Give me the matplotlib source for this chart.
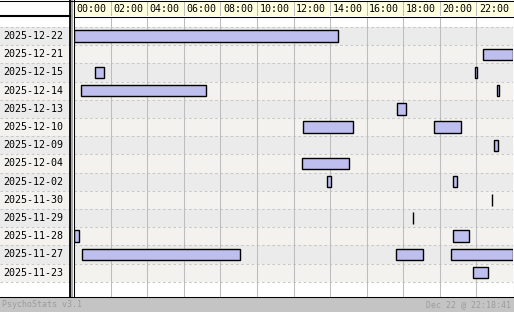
import matplotlib.pyplot as plt
from matplotlib.patches import Rectangle
from matplotlib.lines import Line2D

# Days shown (top to bottom)
days = ["2025-12-22", "2025-12-21", "2025-12-15", "2025-12-14", "2025-12-13",
        "2025-12-10", "2025-12-09", "2025-12-04", "2025-12-02", "2025-11-30",
        "2025-11-29", "2025-11-28", "2025-11-27", "2025-11-23"]

# Sessions: day, start hour, end hour
session_day = ["2025-12-22", "2025-12-21", "2025-12-15", "2025-12-15",
               "2025-12-14", "2025-12-14", "2025-12-13", "2025-12-10",
               "2025-12-10", "2025-12-09", "2025-12-04", "2025-12-02",
               "2025-12-02", "2025-11-30", "2025-11-29", "2025-11-28",
               "2025-11-28", "2025-11-27", "2025-11-27", "2025-11-27",
               "2025-11-23"]
session_start = [0.00, 22.34, 1.14, 21.91, 0.38, 23.11, 17.64, 12.51, 19.67,
                 22.95, 12.45, 13.82, 20.70, 22.86, 18.52, 0.00, 20.70,
                 0.43, 17.59, 20.60, 21.80]
session_end = [14.42, 24.00, 1.63, 22.04, 7.23, 23.24, 18.14, 15.26, 21.16,
               23.19, 15.04, 14.06, 20.95, 22.86, 18.52, 0.29, 21.60,
               9.09, 19.09, 24.00, 22.64]

hour_ticks = list(range(0, 24, 2))
tick_labels = [f"{h:02d}:00" for h in hour_ticks]

footer_left = "PsychoStats v3.1"
footer_right = "Dec 22 @ 22:18:41"

W, H = 514, 312
FONT = "DejaVu Sans Mono"
ROW_A = "#ebebeb"
ROW_B = "#f4f2ee"
BAR_FILL = "#bfbfef"
GRID = "#bdbdbd"


def box(x0, y0, x1, y1):
    # pixel box (top-left origin) -> figure fraction rect
    return [x0 / W, 1 - y1 / H, (x1 - x0) / W, (y1 - y0) / H]


fig = plt.figure(figsize=(W / 100, H / 100), dpi=100)

# y limits: top white strip above first row, bottom white strip after last
n = len(days)
ylim = (n - 0.5 + 15.3 / 18.2, -0.5 - 10.0 / 18.2)

ax = fig.add_axes(box(74, 17, 513, 297))
ax_lab = fig.add_axes(box(0, 17, 69, 297))
ax_head = fig.add_axes(box(74, 1, 513, 16))

for a in (ax, ax_lab, ax_head):
    for s in a.spines.values():
        s.set_visible(False)
    a.set_xticks([])
    a.set_yticks([])

# row backgrounds + dashed separators
for a in (ax, ax_lab):
    a.set_ylim(*ylim)
    a.set_facecolor("white")
    for i in range(n):
        a.axhspan(i - 0.5, i + 0.5, color=ROW_A if i % 2 == 0 else ROW_B, lw=0, zorder=0)
    for i in range(-1, n):
        a.axhline(i + 0.5, color="#c8c8c8", lw=0.75, dashes=(2.5, 2.5), zorder=1)

ax.set_xlim(0, 24)
ax_lab.set_xlim(0, 69)

for h in hour_ticks[1:]:
    ax.axvline(h, color=GRID, lw=0.75, zorder=1)

# sessions
row_of = {d: i for i, d in enumerate(days)}
ys = [row_of[d] for d in session_day]
widths = [e - s for s, e in zip(session_start, session_end)]
ax.barh(ys, widths, left=session_start, height=0.63, color=BAR_FILL,
        edgecolor="black", linewidth=1.0, zorder=3)

# day labels
for i, d in enumerate(days):
    ax_lab.text(3, i, d, ha="left", va="center", fontsize=7.2,
                family=FONT, color="black")

# header with hour labels
ax_head.set_xlim(0, 24)
ax_head.set_ylim(0, 1)
ax_head.set_facecolor("#ffffe0")
for h in hour_ticks[1:]:
    ax_head.axvline(h, color=GRID, lw=0.75)
for h, lab in zip(hour_ticks, tick_labels):
    ax_head.text(h + 0.14, 0.45, lab, ha="left", va="center", fontsize=7.2,
                 family=FONT, color="black")

# frame lines, drawn in pixel space
def hline(y, x0, x1, lw=0.75, color="black"):
    fig.add_artist(Line2D([x0 / W, x1 / W], [1 - y / H, 1 - y / H],
                          color=color, lw=lw, transform=fig.transFigure))


def vline(x, y0, y1, lw=0.75, color="black"):
    fig.add_artist(Line2D([x / W, x / W], [1 - y0 / H, 1 - y1 / H],
                          color=color, lw=lw, transform=fig.transFigure))


hline(0.5, 0, W)
hline(16.5, 74, W)
hline(16.3, 0, 69.5, lw=1.5)
hline(297, 0, W)
fig.add_artist(Rectangle((70 / W, 1 - 297 / H), 3.3 / W, 297 / H,
                         color="#a8a8a8", lw=0, transform=fig.transFigure))
vline(69.6, 0, 297, lw=1.3)
vline(73.8, 0, 297)
vline(513.5, 0, 297)

# footer
fig.add_artist(Rectangle((0, 0), 1, 15 / H, color="#c4c4c4", lw=0,
                         transform=fig.transFigure))
fig.text(2 / W, 1 - 304.5 / H, footer_left, ha="left", va="center",
         fontsize=6, family=FONT, color="#9c9c9c")
fig.text(511 / W, 1 - 304.5 / H, footer_right, ha="right", va="center",
         fontsize=6, family=FONT, color="#9c9c9c")

fig.savefig("out.png", dpi=100)
